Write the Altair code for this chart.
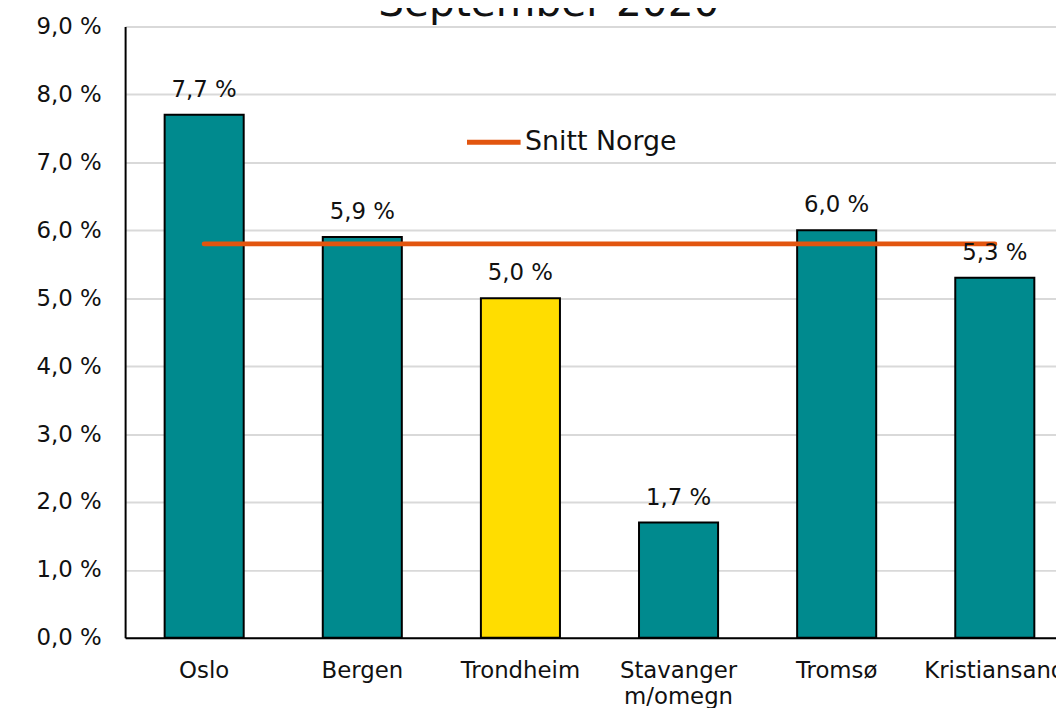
import altair as alt
import pandas as pd

categories = ["Oslo", "Bergen", "Trondheim", "Stavanger m/omegn", "Tromsø", "Kristiansand"]
values = [7.7, 5.9, 5.0, 1.7, 6.0, 5.3]
highlight = ["no", "no", "yes", "no", "no", "no"]
snitt_norge = [5.8, 5.8, 5.8, 5.8, 5.8, 5.8]
y_ticks = [0, 1, 2, 3, 4, 5, 6, 7, 8, 9]

df = pd.DataFrame({
    "by": categories,
    "verdi": values,
    "hl": highlight,
    "snitt": snitt_norge,
    "serie": ["Snitt Norge"] * len(categories),
})

FONT = "DejaVu Sans"

x_enc = alt.X(
    "by:N",
    sort=categories,
    scale=alt.Scale(range=[0, 956], paddingInner=0.5, paddingOuter=0.25),
    axis=alt.Axis(
        title=None, labelAngle=0, labelFontSize=23, labelFont=FONT, labelColor="#111",
        labelPadding=22, labelLineHeight=26, ticks=False, domainColor="#000",
        domainWidth=2, labelExpr="split(datum.label, ' ')",
    ),
)
y_scale = alt.Scale(domain=[0, 9], nice=False)
y_axis = alt.Axis(
    title=None, values=y_ticks, labelFontSize=23, labelFont=FONT, labelColor="#111",
    labelPadding=24, ticks=False, domainColor="#000", domainWidth=2,
    gridColor="#d9d9d9", gridWidth=2,
    labelExpr="replace(format(datum.value, '.1f'), '.', ',') + ' %'",
)

bars = alt.Chart(df).mark_bar(stroke="#000", strokeWidth=2).encode(
    x=x_enc,
    y=alt.Y("verdi:Q", scale=y_scale, axis=y_axis),
    color=alt.Color("hl:N", scale=alt.Scale(domain=["no", "yes"], range=["#008A8E", "#FFDD00"]), legend=None),
)

labels = alt.Chart(df).transform_calculate(
    txt="replace(format(datum.verdi, '.1f'), '.', ',') + ' %'"
).mark_text(baseline="alphabetic", dy=-18, fontSize=23, font=FONT, color="#111").encode(
    x=alt.X("by:N", sort=categories),
    y=alt.Y("verdi:Q"),
    text="txt:N",
)

line = alt.Chart(df).mark_line(strokeWidth=5, strokeCap="round").encode(
    x=alt.X("by:N", sort=categories),
    y=alt.Y("snitt:Q"),
    color=alt.Color(
        "serie:N",
        scale=alt.Scale(domain=["Snitt Norge"], range=["#E2550F"]),
        legend=alt.Legend(
            title=None, orient="none", legendX=342, legendY=87,
            symbolType="stroke", symbolSize=2916, symbolStrokeWidth=5,
            labelFontSize=27, labelFont=FONT, labelColor="#111", padding=0,
            labelOffset=2,
        ),
    ),
)

chart = alt.layer(bars, line, labels).resolve_scale(color="independent").properties(
    width=938,
    height=616,
    autosize=alt.AutoSizeParams(type="none"),
    padding={"left": 118, "top": 16, "right": 0, "bottom": 68},
    title=alt.Title("September 2020", fontSize=41, font=FONT, fontWeight="normal",
                    color="#111", anchor="middle", offset=6, dx=-42, dy=15),
).configure_view(stroke=None)

chart.save("out.html", embed_options={"renderer": "svg", "actions": False})
